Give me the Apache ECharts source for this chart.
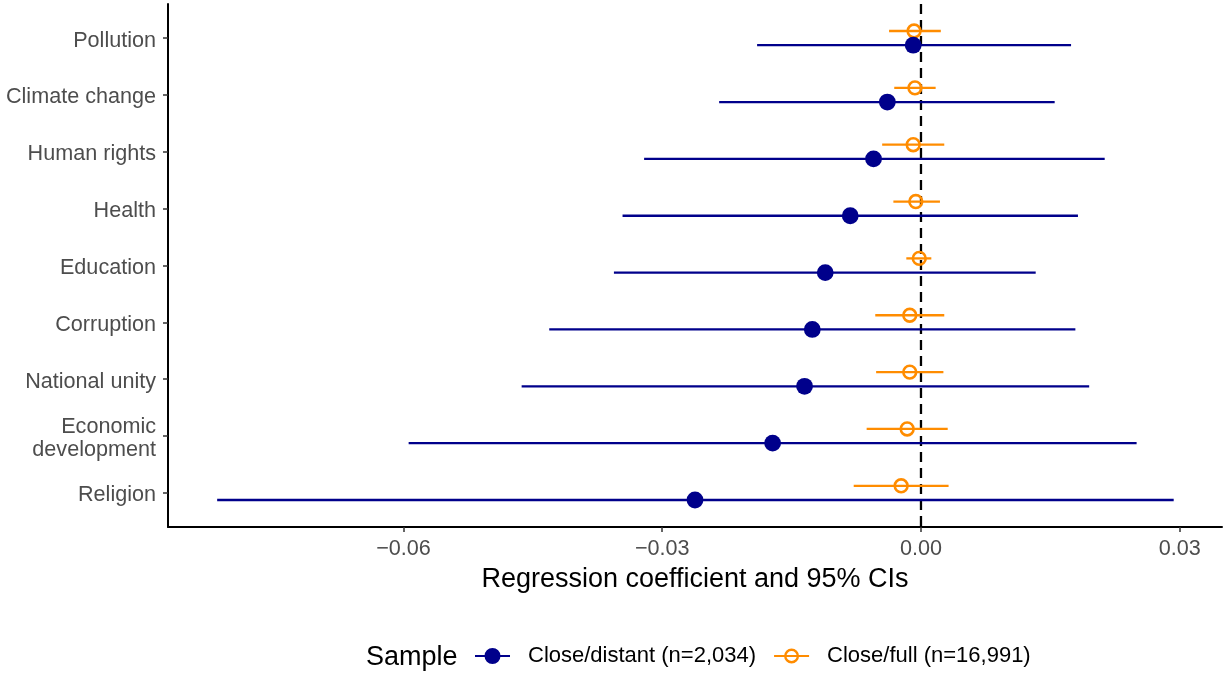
<!DOCTYPE html>
<html>
<head>
<meta charset="utf-8">
<script src="https://cdn.jsdelivr.net/npm/echarts@6/dist/echarts.min.js"></script>
<style>
html,body{margin:0;padding:0;background:#fff;}
#chart{width:1225px;height:673px;}
</style>
</head>
<body>
<div id="chart"></div>
<script>
// ---- Data ----
const categories = ['Pollution', 'Climate change', 'Human rights', 'Health', 'Education',
  'Corruption', 'National unity', 'Economic\ndevelopment', 'Religion'];
const sampleNames = ['Close/distant (n=2,034)', 'Close/full (n=16,991)'];

// Close/distant: estimate, lower, upper
const distantEst = [-0.0009, -0.0039, -0.0055, -0.0082, -0.0111, -0.0126, -0.0135, -0.0172, -0.0262];
const distantLo  = [-0.0190, -0.0234, -0.0321, -0.0346, -0.0356, -0.0431, -0.0463, -0.0594, -0.0816];
const distantHi  = [ 0.0174,  0.0155,  0.0213,  0.0182,  0.0133,  0.0179,  0.0195,  0.0250,  0.0293];

// Close/full: estimate, lower, upper
const fullEst = [-0.0008, -0.0007, -0.0009, -0.0006, -0.0002, -0.0013, -0.0013, -0.0016, -0.0023];
const fullLo  = [-0.0037, -0.0031, -0.0045, -0.0032, -0.0017, -0.0053, -0.0052, -0.0063, -0.0078];
const fullHi  = [ 0.0023,  0.0017,  0.0027,  0.0022,  0.0012,  0.0027,  0.0026,  0.0031,  0.0032];

const xTicks = [-0.06, -0.03, 0, 0.03];
const xMin = -0.0873, xMax = 0.0349;

// ---- Build ----
const FONT = '"Liberation Sans", Arial, Helvetica, sans-serif';
const navy = '#00008B';
const orange = '#FF8C00';

function rows(est, lo, hi) {
  return est.map((e, i) => [e, lo[i], hi[i], i]);
}

function makeRender(offset, filled, color) {
  return function (params, api) {
    const y = api.value(3) + offset;
    const p = api.coord([api.value(0), y]);
    const l = api.coord([api.value(1), y]);
    const h = api.coord([api.value(2), y]);
    return {
      type: 'group',
      children: [
        { type: 'line', shape: { x1: l[0], y1: l[1], x2: h[0], y2: h[1] },
          style: { stroke: color, lineWidth: 2.3 } },
        { type: 'circle', shape: { cx: p[0], cy: p[1], r: filled ? 8.4 : 6.4 },
          style: filled ? { fill: color } : { fill: 'none', stroke: color, lineWidth: 2.6 } }
      ]
    };
  };
}

const darkIcon = 'path://M0,7 L35,7 L35,9 L0,9 Z M9.5,8 A8,8 0 1,1 25.5,8 A8,8 0 1,1 9.5,8 Z';
const orangeIcon = 'path://M0,7 L35,7 L35,9 L0,9 Z M10,8 A7.5,7.5 0 1,1 25,8 A7.5,7.5 0 1,1 10,8 Z M12.4,8 A5.1,5.1 0 1,0 22.6,8 A5.1,5.1 0 1,0 12.4,8 Z M0,0.5 L0.01,0.5 L0.01,0.49 Z M0,15.5 L0.01,15.5 L0.01,15.49 Z';

const chart = echarts.init(document.getElementById('chart'), null, { renderer: 'canvas' });
chart.setOption({
  animation: false,
  backgroundColor: '#fff',
  textStyle: { fontFamily: FONT },
  grid: { left: 168, right: 3, top: 4, bottom: 146, containLabel: false },
  title: {
    text: 'Sample', left: 361, top: 639,
    textStyle: { fontFamily: FONT, fontSize: 27, fontWeight: 'normal', color: '#000' }
  },
  legend: {
    left: 470, top: 640, itemWidth: 35, itemHeight: 16, itemGap: 18,
    textStyle: { fontFamily: FONT, fontSize: 22, color: '#000', padding: [0, 0, 0, 13] },
    data: [
      { name: sampleNames[0], icon: darkIcon },
      { name: sampleNames[1], icon: orangeIcon }
    ]
  },
  xAxis: {
    type: 'value', min: xMin, max: xMax,
    name: 'Regression coefficient and 95% CIs', nameLocation: 'middle', nameGap: 39,
    nameTextStyle: { fontFamily: FONT, fontSize: 27, color: '#000' },
    axisLine: { show: true, onZero: false, lineStyle: { color: '#000', width: 2 } },
    axisTick: { show: true, length: 5, lineStyle: { color: '#333', width: 1.5 }, customValues: xTicks },
    axisLabel: {
      customValues: xTicks, margin: 11, fontSize: 21.6, color: '#4d4d4d', fontFamily: FONT,
      formatter: v => (v < -1e-9 ? '\u2212' : '') + Math.abs(v).toFixed(2)
    },
    splitLine: { show: false }
  },
  yAxis: {
    type: 'value', min: -0.6, max: 8.6, inverse: true,
    axisLine: { show: true, onZero: false, lineStyle: { color: '#000', width: 2 } },
    axisTick: { show: true, length: 5, lineStyle: { color: '#333', width: 1.5 },
      customValues: categories.map((c, i) => i) },
    axisLabel: {
      customValues: categories.map((c, i) => i), margin: 12, fontSize: 21.6, lineHeight: 23,
      color: '#4d4d4d', fontFamily: FONT, align: 'right',
      formatter: v => categories[Math.round(v)].split('\n').map(s => '{a|' + s + '}').join('\n'),
      rich: { a: { fontSize: 21.6, lineHeight: 23, color: '#4d4d4d', fontFamily: FONT, padding: [5, 0, 0, 0] } }
    },
    splitLine: { show: false }
  },
  series: [
    {
      name: 'zero', type: 'custom', silent: true, z: 1,
      data: [[0]],
      encode: { x: 0 },
      renderItem: function (params, api) {
        const cs = params.coordSys;
        const x = api.coord([api.value(0), 0])[0];
        return { type: 'line', shape: { x1: x, y1: cs.y, x2: x, y2: cs.y + cs.height },
          style: { stroke: '#000', lineWidth: 2.3, lineDash: [10, 6] } };
      }
    },
    {
      name: sampleNames[1], type: 'custom', z: 2,
      itemStyle: { color: orange },
      data: rows(fullEst, fullLo, fullHi),
      encode: { x: [0, 1, 2], y: 3 },
      renderItem: makeRender(-0.125, false, orange)
    },
    {
      name: sampleNames[0], type: 'custom', z: 3,
      itemStyle: { color: navy },
      data: rows(distantEst, distantLo, distantHi),
      encode: { x: [0, 1, 2], y: 3 },
      renderItem: makeRender(0.125, true, navy)
    }
  ]
});
</script>
</body>
</html>
